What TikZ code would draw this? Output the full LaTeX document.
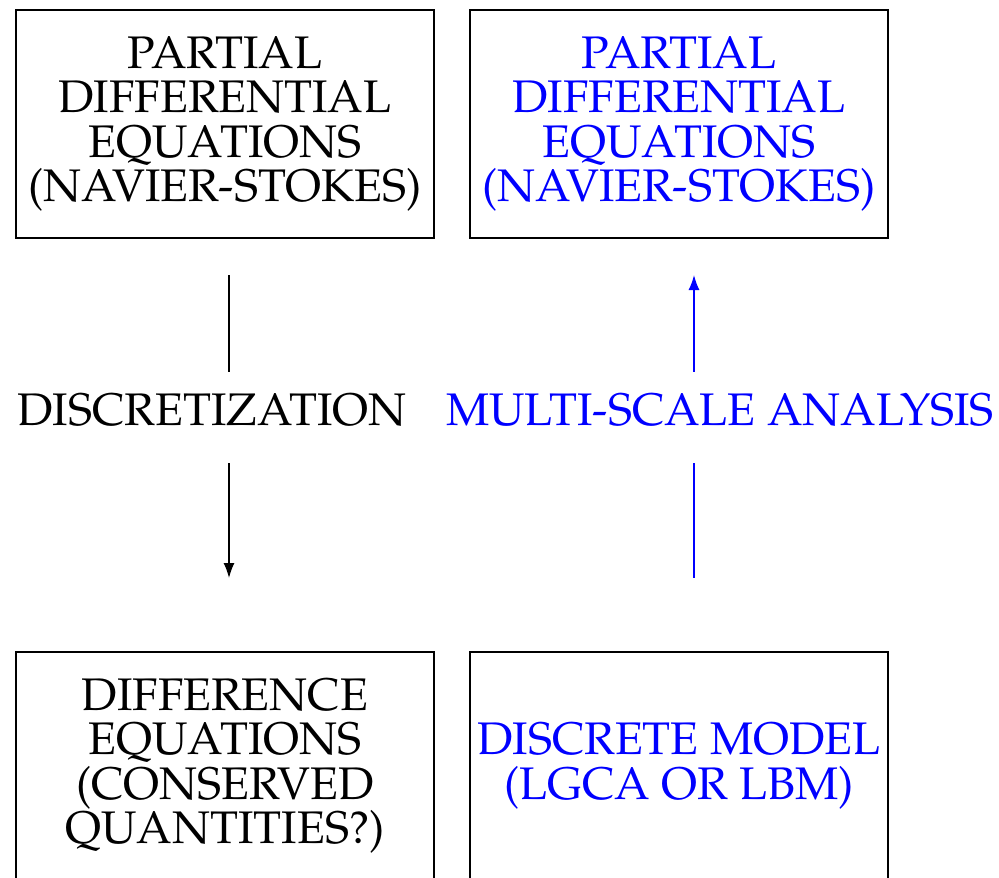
\documentclass[tikz,border=0pt]{standalone}
\usepackage[T1]{fontenc}
\usepackage{mathpazo}
\usepackage{xcolor}
\usetikzlibrary{arrows.meta}

\begin{document}
\begin{tikzpicture}[
        box/.style={draw, line width=0.9pt, minimum width=8.36cm,
                    minimum height=4.56cm, align=center,
                    font=\fontsize{26}{25.2}\selectfont},
        lbl/.style={font=\fontsize{26}{25.2}\selectfont},
        conn/.style={line width=0.8pt}
    ]
        \useasboundingbox (0,0) rectangle (19.98,-17.54);
        % boxes
        \node[box] (pdeL) at (4.5,-2.48)
            {PARTIAL\\DIFFERENTIAL\\EQUATIONS\\(NAVIER-STOKES)};
        \node[box, text=blue] (pdeR) at (13.58,-2.48)
            {PARTIAL\\DIFFERENTIAL\\EQUATIONS\\(NAVIER-STOKES)};
        \node[box] (diff) at (4.5,-15.32)
            {DIFFERENCE\\EQUATIONS\\(CONSERVED\\QUANTITIES?)};
        \node[box, text=blue] (model) at (13.58,-15.32)
            {DISCRETE MODEL\\(LGCA OR LBM)};
        % labels
        \node[lbl] (discr) at (4.24,-8.2) {DISCRETIZATION};
        \node[lbl, text=blue] (multi) at (14.4,-8.2) {MULTI-SCALE ANALYSIS};
        % arrows
        \foreach \x/\s in {4.58/l, 13.88/r}{
            \coordinate (\s1) at (\x,-5.5);
            \coordinate (\s2) at (\x,-7.44);
            \coordinate (\s3) at (\x,-9.26);
            \coordinate (\s4) at (\x,-11.56);
        }
        \draw[conn] (l1) -- (l2);
        \draw[conn, -{Latex[length=3mm, width=2.2mm]}] (l3) -- (l4);
        \draw[conn, blue, {Latex[length=3mm, width=2.2mm]}-] (r1) -- (r2);
        \draw[conn, blue] (r3) -- (r4);
    \end{tikzpicture}
\end{document}
